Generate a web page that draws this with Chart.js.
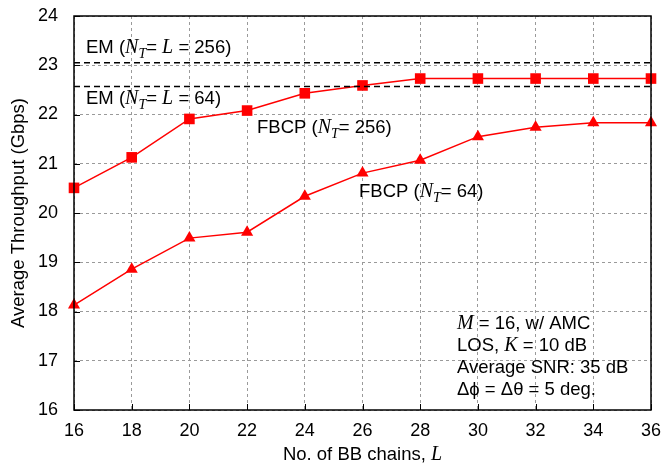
<!DOCTYPE html>
<html>
<head>
<meta charset="utf-8">
<script src="https://cdn.jsdelivr.net/npm/chart.js@4/dist/chart.umd.min.js"></script>
<style>
  html, body { margin: 0; padding: 0; background: #fff; }
  #wrap { width: 662px; height: 468px; }
</style>
</head>
<body>
<div id="wrap"><canvas id="myChart" width="662" height="468"></canvas></div>
<script>
// data
const chains = [16, 18, 20, 22, 24, 26, 28, 30, 32, 34, 36];
const fbcp256 = [20.51, 21.13, 21.91, 22.08, 22.43, 22.59, 22.73, 22.73, 22.73, 22.73, 22.73];
const fbcp64 = [18.13, 18.86, 19.49, 19.61, 20.34, 20.81, 21.07, 21.55, 21.74, 21.83, 21.83];
const em256 = 23.05;
const em64 = 22.57;
const yTicks = [16, 17, 18, 19, 20, 21, 22, 23, 24];

const sans = '"Liberation Sans", Arial, sans-serif';
const serif = '"Liberation Serif", "Times New Roman", serif';
const fs = 18.5;

function toPts(arr){
	return chains.map((c, i) => ({x: c, y: arr[i]}));
}
function flat(v){
	return chains.map((c) => ({x: c, y: v}));
}

// draws a line of mixed text: n = normal, i = italic serif, s = subscript
function drawRich(ctx, parts, x, y){
	parts.forEach((p) => {
		let txt = p[0], st = p[1];
		let dy = 0;
		if(st == 'n') ctx.font = fs + 'px ' + sans;
		else if(st == 'i') ctx.font = 'italic 20px ' + serif;
		else { ctx.font = 'italic 14px ' + serif; dy = 5; }
		ctx.fillText(txt, x, y + dy);
		x += ctx.measureText(txt).width;
	});
	return x;
}

const extras = {
	id: 'extras',
	afterDraw(chart){
		const ctx = chart.ctx;
		const a = chart.chartArea;
		const xs = chart.scales.x, ys = chart.scales.y;
		ctx.save();
		// frame
		ctx.strokeStyle = '#000';
		ctx.lineWidth = 1.5;
		ctx.strokeRect(a.left, a.top, a.right - a.left, a.bottom - a.top);
		// inward ticks
		ctx.lineWidth = 1;
		ctx.beginPath();
		yTicks.forEach((t) => {
			let py = Math.round(ys.getPixelForValue(t)) + 0.5;
			ctx.moveTo(a.left, py); ctx.lineTo(a.left + 6, py);
		});
		chains.forEach((c) => {
			let px = Math.round(xs.getPixelForValue(c)) + 0.5;
			ctx.moveTo(px, a.bottom); ctx.lineTo(px, a.bottom - 6);
		});
		ctx.stroke();

		ctx.fillStyle = '#000';
		ctx.textBaseline = 'alphabetic';
		ctx.textAlign = 'left';
		drawRich(ctx, [['EM (', 'n'], ['N', 'i'], ['T', 's'], ['= ', 'n'], ['L', 'i'], [' = 256)', 'n']], 86, 53);
		drawRich(ctx, [['EM (', 'n'], ['N', 'i'], ['T', 's'], ['= ', 'n'], ['L', 'i'], [' = 64)', 'n']], 86, 104);
		drawRich(ctx, [['FBCP (', 'n'], ['N', 'i'], ['T', 's'], ['= 256)', 'n']], 257, 133);
		drawRich(ctx, [['FBCP (', 'n'], ['N', 'i'], ['T', 's'], ['= 64)', 'n']], 359, 197);

		drawRich(ctx, [['M', 'i'], [' = 16, w/ AMC', 'n']], 457, 329);
		drawRich(ctx, [['LOS, ', 'n'], ['K', 'i'], [' = 10 dB', 'n']], 457, 351);
		drawRich(ctx, [['Average SNR: 35 dB', 'n']], 457, 373);
		drawRich(ctx, [['\u0394\u03d5 = \u0394\u03b8 = 5 deg.', 'n']], 457, 395);

		// x axis title with italic L
		ctx.font = fs + 'px ' + sans;
		let w1 = ctx.measureText('No. of BB chains, ').width;
		ctx.font = 'italic 20px ' + serif;
		let w2 = ctx.measureText('L').width;
		let cx = (a.left + a.right) / 2;
		drawRich(ctx, [['No. of BB chains, ', 'n'], ['L', 'i']], cx - (w1 + w2) / 2, 460);
		ctx.restore();
	}
};

const ctx = document.getElementById('myChart');

new Chart(ctx, {
	type: 'line',
	data: {
		datasets: [
			{ label: 'EM256', data: flat(em256), borderColor: '#000', borderWidth: 1.5, borderDash: [6, 4], pointRadius: 0, clip: false },
			{ label: 'EM64', data: flat(em64), borderColor: '#000', borderWidth: 1.5, borderDash: [6, 4], pointRadius: 0, clip: false },
			{ label: 'FBCP256', data: toPts(fbcp256), borderColor: '#ff0000', backgroundColor: '#ff0000', borderWidth: 1.5,
			  pointStyle: 'rect', pointRadius: 7.5, pointBorderWidth: 0, clip: false },
			{ label: 'FBCP64', data: toPts(fbcp64), borderColor: '#ff0000', backgroundColor: '#ff0000', borderWidth: 1.5,
			  pointStyle: 'triangle', pointRadius: 7, pointBorderWidth: 0, clip: false }
		]
	},
	options: {
		responsive: false,
		animation: false,
		events: [],
		layout: { autoPadding: false, padding: { top: 16, right: 11, left: 0, bottom: 0 } },
		plugins: { legend: { display: false }, tooltip: { enabled: false } },
		scales: {
			x: {
				type: 'linear', min: 16, max: 36,
				afterFit: (s) => { s.height = 58; s.paddingLeft = 0; s.paddingRight = 0; },
				afterBuildTicks: (s) => { s.ticks = chains.map((v) => ({value: v})); },
				border: { display: false, dash: [3, 3] },
				grid: { color: '#9a9a9a', drawTicks: false, lineWidth: 1 },
				ticks: { color: '#000', font: { family: sans, size: 18 }, padding: 10, maxRotation: 0 }
			},
			y: {
				min: 16, max: 24,
				afterFit: (s) => { s.width = 74; s.paddingTop = 0; s.paddingBottom = 0; },
				afterBuildTicks: (s) => { s.ticks = yTicks.map((v) => ({value: v})); },
				border: { display: false, dash: [3, 3] },
				grid: { color: '#9a9a9a', drawTicks: false, lineWidth: 1 },
				ticks: { color: '#000', font: { family: sans, size: 18 }, padding: 16 },
				title: { display: true, text: 'Average Throughput (Gbps)', color: '#000', font: { family: sans, size: fs }, padding: { top: 8, bottom: 0 } }
			}
		}
	},
	plugins: [extras]
});
</script>
</body>
</html>
